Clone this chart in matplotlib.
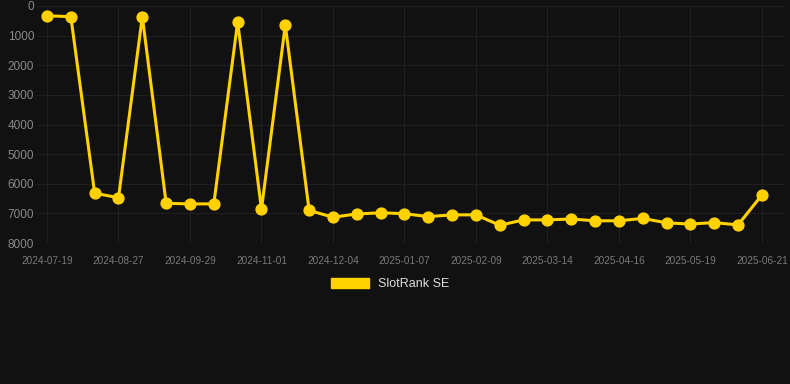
import matplotlib
matplotlib.use('Agg')
import matplotlib.pyplot as plt
from matplotlib.patches import Patch

matplotlib.rcParams['font.family'] = ['Liberation Sans', 'DejaVu Sans']

# weekly rank readings (lower = better)
ranks = [330, 360, 6320, 6470, 360, 6660, 6680, 6680, 540, 6860,
         640, 6900, 7130, 7020, 6980, 7010, 7110, 7050, 7050, 7400,
         7220, 7220, 7190, 7250, 7250, 7170, 7320, 7360, 7310, 7390,
         6380]
tick_labels = ['2024-07-19', '2024-08-27', '2024-09-29', '2024-11-01',
               '2024-12-04', '2025-01-07', '2025-02-09', '2025-03-14',
               '2025-04-16', '2025-05-19', '2025-06-21']
y_ticks = [0, 1000, 2000, 3000, 4000, 5000, 6000, 7000, 8000]
series_name = 'SlotRank SE'

bg = '#111111'
yellow = '#FFD200'


def draw_pic():
    fig = plt.figure(figsize=(7.9, 3.84), dpi=100, facecolor=bg)
    ax = fig.add_axes([37/790, 1-243/384, 748/790, 237/384], facecolor=bg)

    xs = list(range(len(ranks)))
    ax.plot(xs, ranks, color=yellow, lw=2.2, marker='o', ms=7.8,
            solid_joinstyle='miter', zorder=3)

    ax.set_ylim(8000, 0)
    ax.set_xlim(-0.42, len(ranks) - 1 + 0.97)
    ax.set_yticks(y_ticks)
    ax.set_yticklabels([str(v) for v in y_ticks])
    ax.set_xticks(xs[::3])
    ax.set_xticklabels(tick_labels)

    ax.grid(True, color='#1f1f1f', lw=0.8)
    ax.set_axisbelow(True)
    for s in ax.spines.values():
        s.set_visible(False)
    ax.tick_params(axis='y', length=0, pad=2, labelsize=8.5, labelcolor='#8a8a8a')
    ax.tick_params(axis='x', length=0, pad=9, labelsize=7.2, labelcolor='#7a7a7a')

    fig.legend(handles=[Patch(facecolor=yellow, edgecolor=yellow, label=series_name)],
               loc='center', bbox_to_anchor=(390/790, 1-284/384), frameon=False,
               handlelength=3.1, handleheight=0.8, handletextpad=0.7,
               fontsize=9, labelcolor='#dddddd')

    fig.savefig('out.png', dpi=100, facecolor=bg)


if __name__ == '__main__':
    draw_pic()
